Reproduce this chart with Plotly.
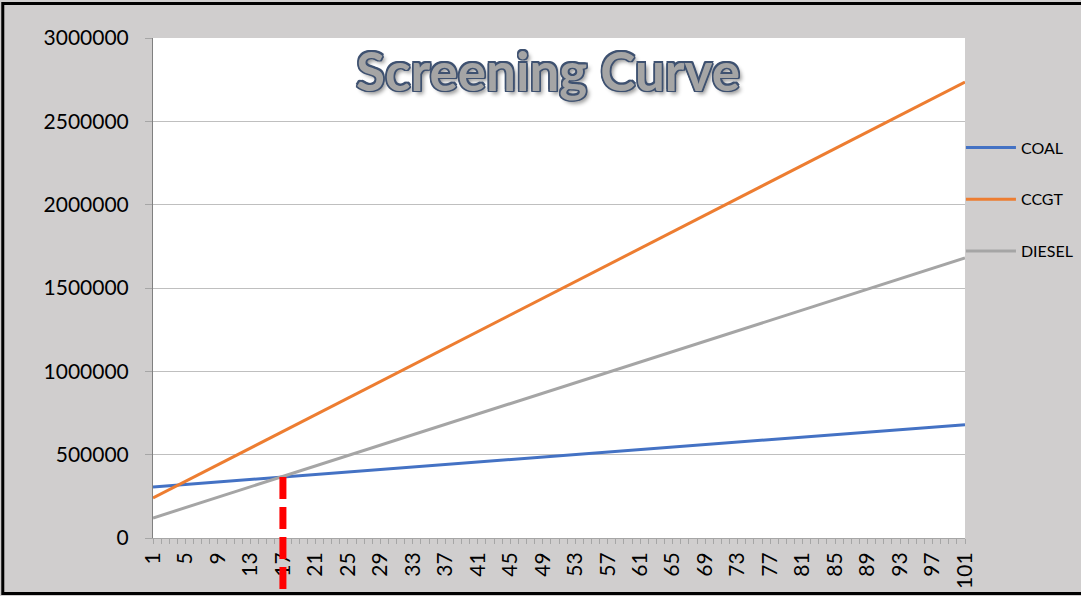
import plotly.graph_objects as go

# ---------------------------------------------------------------------------
# Dati (costo annuo vs ore di funzionamento)
# ---------------------------------------------------------------------------
HOURS = [1, 101]
COAL = [306000, 680000]
CCGT = [240000, 2736000]
DIESEL = [120000, 1680000]

SERIES = [
    ("COAL", COAL, "#4472c4"),
    ("CCGT", CCGT, "#ed7d31"),
    ("DIESEL", DIESEL, "#a5a5a5"),
]

X_TICKS = [1, 5, 9, 13, 17, 21, 25, 29, 33, 37, 41, 45, 49, 53, 57, 61,
           65, 69, 73, 77, 81, 85, 89, 93, 97, 101]
Y_TICKS = [0, 500000, 1000000, 1500000, 2000000, 2500000, 3000000]
Y_MAX = 3000000

# punto di pareggio COAL / DIESEL
BREAKEVEN_HOUR = 17
BREAKEVEN_COST = 366000

FONT = "Lato"
BG = "#d0cece"

fig = go.Figure()
for name, values, color in SERIES:
    fig.add_trace(
        go.Scatter(
            x=HOURS,
            y=values,
            mode="lines",
            name=name,
            legendgroup=name,
            line=dict(color=color, width=3),
        )
    )

# linea tratteggiata rossa al pareggio
fig.add_shape(
    type="line",
    xref="x",
    yref="paper",
    x0=BREAKEVEN_HOUR,
    x1=BREAKEVEN_HOUR,
    y0=BREAKEVEN_COST / Y_MAX,
    y1=-0.104,
    line=dict(color="#ff0000", width=7, dash="22px,8px"),
    layer="above",
)

# cornice esterna
fig.add_shape(
    type="rect",
    xref="paper",
    yref="paper",
    x0=-0.185,
    x1=1.15,
    y0=-0.111,
    y1=1.069,
    line=dict(color="black", width=3),
    fillcolor="rgba(0,0,0,0)",
    layer="above",
)

fig.update_layout(
    width=1081,
    height=596,
    margin=dict(l=153, r=116, t=38, b=58, autoexpand=False),
    paper_bgcolor=BG,
    plot_bgcolor="white",
    font=dict(family=FONT, color="black"),
    title=dict(
        text="Screening Curve",
        x=548 / 1081,
        y=1 - 72 / 596,
        xanchor="center",
        yanchor="middle",
        font=dict(
            family=FONT,
            size=53,
            weight=700,
            color="#a5a5a5",
            shadow=(
                "-1.5px -1.5px 0 #3e5170, 1.5px -1.5px 0 #3e5170, "
                "-1.5px 1.5px 0 #3e5170, 1.5px 1.5px 0 #3e5170, "
                "0 -1.5px 0 #3e5170, 0 1.5px 0 #3e5170, "
                "-1.5px 0 0 #3e5170, 1.5px 0 0 #3e5170, "
                "3px 3px 4px rgba(0,0,0,0.45)"
            ),
        ),
    ),
    legend=dict(
        x=0.995,
        y=0.815,
        xanchor="left",
        yanchor="top",
        bgcolor="rgba(0,0,0,0)",
        font=dict(family=FONT, size=16),
        tracegroupgap=28,
        itemwidth=50,
    ),
    xaxis=dict(
        range=[HOURS[0], HOURS[-1]],
        tickvals=X_TICKS,
        ticktext=[str(t) for t in X_TICKS],
        tickangle=-90,
        tickfont=dict(size=21),
        ticks="outside",
        ticklen=5,
        tickcolor="#a6a6a6",
        minor=dict(dtick=1, ticks="outside", ticklen=5, tickcolor="#a6a6a6"),
        showline=True,
        linecolor="#a6a6a6",
        linewidth=1,
        showgrid=False,
        zeroline=False,
    ),
    yaxis=dict(
        range=[0, Y_MAX],
        tickvals=Y_TICKS,
        tickformat="d",
        tickfont=dict(size=21),
        ticks="outside",
        ticklen=7,
        tickcolor="#a6a6a6",
        ticklabelstandoff=12,
        showline=True,
        linecolor="#808080",
        linewidth=1,
        showgrid=True,
        gridcolor="#bfbfbf",
        gridwidth=1,
        zeroline=False,
    ),
)

fig.write_html(
    "out.html",
    config={"responsive": False, "displayModeBar": False},
    post_script="document.body.style.margin='0';document.body.style.overflow='hidden';",
)
